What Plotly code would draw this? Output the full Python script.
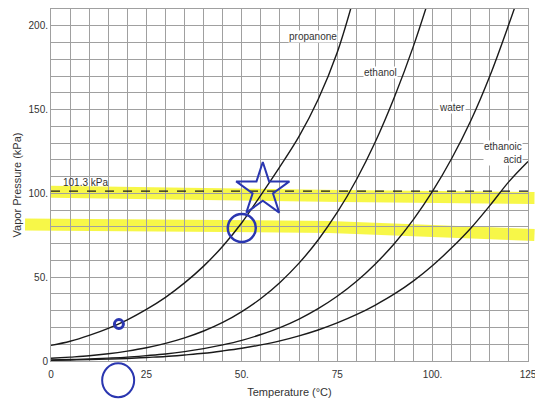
import plotly.graph_objects as go

# ---- data ----
temps_propanone = [0, 5, 10, 15, 20, 25, 30, 35, 40, 45, 50, 55, 60, 65, 70, 75, 80]
vp_propanone = [9.3, 11.8, 15.3, 19.5, 24.6, 30.8, 38.0, 46.6, 56.6, 68.5, 82.5, 99.0, 116, 134, 156, 184, 222]

temps_ethanol = [0, 5, 10, 15, 20, 25, 30, 35, 40, 45, 50, 55, 60, 65, 70, 75, 80, 85, 90, 95, 100]
vp_ethanol = [1.6, 2.3, 3.1, 4.3, 5.9, 7.9, 10.5, 13.8, 17.9, 23.0, 29.5, 37.3, 46.9, 58.4, 72.2, 88.6,
              108.0, 130.8, 157.5, 188.0, 223.0]

temps_water = [0, 5, 10, 15, 20, 25, 30, 35, 40, 45, 50, 55, 60, 65, 70, 75, 80, 85, 90, 95, 100,
               105, 110, 115, 120, 125]
vp_water = [0.6, 0.9, 1.2, 1.7, 2.3, 3.2, 4.2, 5.6, 7.4, 9.6, 12.3, 15.8, 19.9, 25.0, 31.2, 38.6, 47.4,
            57.9, 70.1, 84.5, 101.3, 120.8, 143.3, 170.0, 201.0, 234.0]

temps_acid = [0, 5, 10, 15, 20, 25, 30, 35, 40, 45, 50, 55, 60, 65, 70, 75, 80, 85, 90, 95, 100,
              105, 110, 115, 120, 125]
vp_acid = [0.4, 0.6, 0.8, 1.1, 1.5, 2.1, 2.7, 3.6, 4.6, 6.0, 7.6, 9.6, 12.0, 15.0, 18.5, 22.7, 27.6,
           33.4, 40.0, 47.8, 57.0, 67.5, 79.2, 92.7, 107.0, 119.0]

atm_pressure = 101.3
atm_label = "101.3 kPa"

x_tickvals = [0, 25, 50, 75, 100, 125]
x_ticktext = ["0", "25", "50.", "75", "100.", "125"]
y_tickvals = [0, 50, 100, 150, 200]
y_ticktext = ["0", "50.", "100.", "150.", "200."]

curve_labels = ["propanone", "ethanol", "water", "ethanoic<br>acid"]
label_x = [68.6, 86.4, 105.2, 118.5]
label_y = [193.5, 172, 151, 124]

# highlighter strokes (temperature, pressure) points
hl_upper_t = [0, 76, 126.7]
hl_upper_p = [100.9, 98.5, 97.3]
hl_lower_t = [-6.8, 73, 126.7]
hl_lower_p = [81.5, 80.0, 75.2]

# hand-drawn blue marks
mark_t = [17.8, 50.0]
mark_p = [22.0, 79.4]
star_t = [55.5]
star_p = [102.0]
below_circle_t = [17.6]
below_circle_p = [-11.5]

X_RANGE = [0, 125]
Y_RANGE = [0, 210]
BLUE = "#2a36b0"

fig = go.Figure()

for t, p in [(temps_propanone, vp_propanone), (temps_ethanol, vp_ethanol),
             (temps_water, vp_water), (temps_acid, vp_acid)]:
    fig.add_trace(go.Scatter(x=t, y=p, mode="lines",
                             line=dict(color="#1a1a1a", width=1.4, shape="spline"),
                             showlegend=False, hoverinfo="skip"))

# dashed 101.3 kPa line
fig.add_trace(go.Scatter(x=X_RANGE, y=[atm_pressure, atm_pressure], mode="lines",
                         line=dict(color="#1a1a1a", width=1.3, dash="dash"),
                         showlegend=False, hoverinfo="skip"))

# blue marks
fig.add_trace(go.Scatter(x=mark_t[:1], y=mark_p[:1], mode="markers",
                         marker=dict(symbol="circle-open", size=9, color=BLUE,
                                     line=dict(width=3, color=BLUE)),
                         showlegend=False, hoverinfo="skip"))
fig.add_trace(go.Scatter(x=mark_t[1:], y=mark_p[1:], mode="markers",
                         marker=dict(symbol="circle-open", size=28, color=BLUE,
                                     line=dict(width=2.5, color=BLUE)),
                         showlegend=False, hoverinfo="skip"))
fig.add_trace(go.Scatter(x=star_t, y=star_p, mode="markers",
                         marker=dict(symbol="star-open", size=40, color=BLUE,
                                     line=dict(width=2, color=BLUE)),
                         showlegend=False, hoverinfo="skip"))


def to_paper(t, p):
    return ((t - X_RANGE[0]) / (X_RANGE[1] - X_RANGE[0]),
            (p - Y_RANGE[0]) / (Y_RANGE[1] - Y_RANGE[0]))


def hl_path(ts, ps):
    pts = [to_paper(t, p) for t, p in zip(ts, ps)]
    return "M " + " L ".join(f"{x:.4f},{y:.4f}" for x, y in pts)


for ts, ps in [(hl_upper_t, hl_upper_p), (hl_lower_t, hl_lower_p)]:
    fig.add_shape(type="path", path=hl_path(ts, ps), xref="paper", yref="paper",
                  line=dict(color="rgba(245,245,20,0.78)", width=12), layer="between")

# hand-drawn circle below the axis (paper coords so it is not clipped)
cx, cy = to_paper(below_circle_t[0], below_circle_p[0])
rx, ry = 16 / 477, 17 / 352
fig.add_shape(type="circle", xref="paper", yref="paper", x0=cx - rx, x1=cx + rx,
              y0=cy - ry, y1=cy + ry, line=dict(color=BLUE, width=2))

for txt, lx, ly in zip(curve_labels, label_x, label_y):
    fig.add_annotation(x=lx, y=ly, text=txt, showarrow=False, xanchor="center",
                       align="right", font=dict(size=10, color="#333"),
                       bgcolor="white", borderpad=0)

fig.add_annotation(x=2.5, y=atm_pressure, text=atm_label, showarrow=False, xanchor="left",
                   yanchor="bottom", yshift=1, font=dict(size=10, color="#333"))

GRID = "#a0a0a0"
fig.update_xaxes(range=X_RANGE, tickvals=x_tickvals, ticktext=x_ticktext, automargin=False,
                 ticklabeloverflow="allow", ticklabelstandoff=4,
                 title=dict(text="Temperature (°C)", font=dict(size=11, color="#333"), standoff=9),
                 tickfont=dict(size=10, color="#333"), showgrid=True, gridcolor=GRID,
                 minor=dict(dtick=5, showgrid=True, gridcolor=GRID),
                 zeroline=False, showline=True, linecolor=GRID, mirror=True, ticks="")
fig.update_yaxes(range=Y_RANGE, tickvals=y_tickvals, ticktext=y_ticktext, automargin=False,
                 title=dict(text="Vapor Pressure (kPa)", font=dict(size=11, color="#333"), standoff=4),
                 tickfont=dict(size=10, color="#333"), showgrid=True, gridcolor=GRID,
                 minor=dict(dtick=10, showgrid=True, gridcolor=GRID, tick0=0),
                 zeroline=False, showline=True, linecolor=GRID, mirror=True, ticks="")

fig.update_layout(width=535, height=403, margin=dict(l=51, r=7, t=9, b=42),
                  paper_bgcolor="white", plot_bgcolor="white",
                  font=dict(family="Liberation Sans, Arial, sans-serif"))

fig.write_html("out.html", config={"displayModeBar": False},
               post_script="document.body.style.margin='0';document.body.style.overflow='hidden';")
